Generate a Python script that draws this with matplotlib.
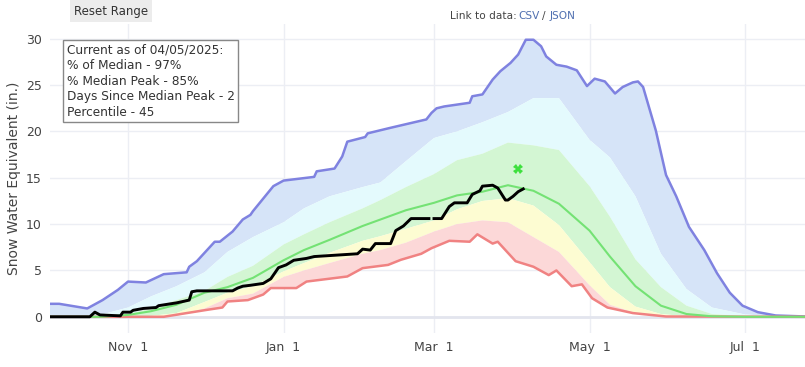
# Snow water equivalent chart: percentile bands, median and current water year
import numpy as np
import matplotlib
matplotlib.use('Agg')
import matplotlib.pyplot as plt
import matplotlib.dates as mdates
from datetime import datetime

# day 0 = start of water year
WY_START = datetime(2024, 10, 1)

# max of record (blue line)
max_days = [0, 4, 15, 21, 27, 31, 38, 45, 54, 55, 58, 61, 65, 67, 72, 76, 79, 80, 88, 92,
            104, 105, 112, 115, 117, 124, 125, 134, 148, 150, 152, 155, 165, 166, 170, 174, 177, 181, 184, 187,
            190, 193, 195, 199, 203, 207, 211, 214, 218, 222, 225, 229, 231, 233, 238, 242, 246, 251, 257, 262,
            267, 272, 278, 285, 297]
max_vals = [1.4, 1.4, 0.9, 1.8, 2.9, 3.8, 3.7, 4.6, 4.8, 5.4, 6.0, 6.9, 8.1, 8.1, 9.2, 10.5, 11.0, 11.4, 14.1, 14.7,
            15.1, 15.7, 16.0, 17.3, 18.9, 19.4, 19.8, 20.4, 21.3, 22.0, 22.5, 22.7, 23.1, 23.8, 24.0, 25.6, 26.5, 27.4, 28.3, 29.9,
            29.9, 29.2, 28.1, 27.2, 27.0, 26.6, 24.9, 25.7, 25.4, 24.1, 24.8, 25.3, 25.4, 24.8, 20.1, 15.3, 13.0, 9.7, 7.2, 4.7,
            2.6, 1.2, 0.5, 0.14, 0.03]

# min of record (red line)
min_days = [0, 45, 54, 62, 68, 70, 78, 84, 87, 97, 101, 117, 123, 133, 138, 146, 150, 157, 165, 168,
            174, 176, 183, 190, 196, 199, 205, 209, 213, 219, 229, 242, 297]
min_vals = [0, 0, 0.4, 0.75, 1.0, 1.65, 1.8, 2.4, 3.1, 3.1, 3.8, 4.35, 5.25, 5.6, 6.15, 6.8, 7.4, 8.2, 8.1, 8.9,
            7.9, 8.1, 6.0, 5.4, 4.5, 5.0, 3.3, 3.5, 2.0, 1.0, 0.4, 0.03, 0]

# percentiles on a common set of days
pct_days = [0, 10, 20, 31, 40, 50, 61, 70, 80, 92, 100, 110, 123, 130, 140, 151, 160, 170, 180, 190,
            200, 212, 220, 230, 240, 250, 260, 273, 285, 297]
p90 = [0, 0, 0.2, 1.0, 2.2, 3.3, 4.8, 7.0, 8.6, 10.2, 11.7, 13.0, 14.0, 14.5, 16.8, 19.3, 20.0, 21.0, 22.1, 23.6,
       23.6, 19.1, 17.2, 13.0, 6.8, 3.0, 1.0, 0.25, 0.05, 0]
p70 = [0, 0, 0, 0.3, 0.9, 1.8, 2.8, 4.3, 5.5, 7.8, 8.9, 10.2, 11.7, 12.6, 14.0, 15.4, 16.9, 17.6, 18.8, 18.5,
       18.0, 14.1, 10.8, 6.2, 3.2, 1.2, 0.3, 0.05, 0, 0]
median = [0, 0, 0, 0.2, 0.6, 1.3, 2.6, 3.2, 4.2, 6.1, 7.2, 8.3, 9.8, 10.5, 11.5, 12.3, 13.1, 13.5, 14.2, 13.6,
          12.2, 9.3, 6.5, 3.3, 1.2, 0.3, 0.05, 0, 0, 0]
p30 = [0, 0, 0, 0, 0.1, 0.4, 1.6, 2.6, 3.3, 4.9, 5.8, 6.9, 8.2, 8.7, 9.5, 10.4, 11.6, 12.5, 12.8, 12.0,
       9.9, 5.9, 3.2, 1.1, 0.3, 0.05, 0, 0, 0, 0]
p10 = [0, 0, 0, 0, 0, 0.1, 0.9, 2.0, 2.5, 4.3, 5.0, 5.8, 6.8, 7.2, 8.0, 9.2, 10.0, 10.4, 10.2, 8.6,
       7.0, 3.4, 1.3, 0.4, 0.1, 0, 0, 0, 0, 0]

# current water year (black line), nan = missing data
cur_days = [0, 16, 18, 20, 28, 29, 32, 33, 37, 42, 43, 50, 55, 56, 58, 72, 74, 76, 79, 84,
            87, 90, 91, 93, 96, 101, 104, 121, 123, 126, 128, 134, 136, 139, 142, 149, 150, 151, 154, 157,
            159, 164, 166, 169, 170, 174, 176, 179, 180, 182, 184, 186]
cur_vals = [0, 0, 0.5, 0.2, 0.1, 0.5, 0.5, 0.7, 0.9, 1.0, 1.2, 1.5, 1.8, 2.7, 2.8, 2.8, 3.1, 3.3, 3.4, 3.6,
            4.1, 5.3, 5.4, 5.6, 6.1, 6.3, 6.5, 6.8, 7.3, 7.2, 7.9, 7.9, 9.3, 9.8, 10.6, 10.6, np.nan, 10.6, 10.6, 11.9,
            12.3, 12.3, 13.2, 13.6, 14.1, 14.2, 13.9, 12.6, 12.6, 13.0, 13.5, 13.8]

peak_day, peak_val = 184, 16.0

info_lines = ["Current as of 04/05/2025:", "% of Median - 97%", "% Median Peak - 85%",
              "Days Since Median Peak - 2", "Percentile - 45"]

t0 = mdates.date2num(WY_START)
def tx(days):
    return t0 + np.asarray(days, dtype=float)

W, H = 805, 367
fig = plt.figure(figsize=(W / 100, H / 100), dpi=100)
ax = fig.add_axes([50 / W, (H - 333) / H, (805 - 50) / W, (333 - 24) / H])

xp, xmx, xmn = tx(pct_days), tx(max_days), tx(min_days)

def band(x_top, y_top, x_bot, y_bot, color):
    ax.fill(np.concatenate([x_top, x_bot[::-1]]),
            np.concatenate([y_top, np.asarray(y_bot)[::-1]]),
            color=color, lw=0, zorder=1)

band(xmx, max_vals, xp, p90, '#d6e4f8')
band(xp, p90, xp, p70, '#e4fafd')
band(xp, p70, xp, p30, '#d3f6d3')
band(xp, p30, xp, p10, '#fdfcd2')
band(xp, p10, xmn, min_vals, '#fcd8d8')

ax.plot(xmx, max_vals, color='#7f82e0', lw=1.8, zorder=3)
ax.plot(xmn, min_vals, color='#f08282', lw=1.8, zorder=3)
ax.plot(xp, median, color='#74e274', lw=1.5, zorder=3)
ax.plot(tx(cur_days), cur_vals, color='black', lw=2.1, zorder=4)
ax.plot(tx([peak_day]), [peak_val], marker='X', color='#3ee03e', ms=7, mew=0, ls='none', zorder=5)

ax.set_xlim(tx([0.4, 296.5]))
ax.set_ylim(-1.75, 31.6)
ax.set_yticks([0, 5, 10, 15, 20, 25, 30])
ax.xaxis.set_major_locator(mdates.MonthLocator(bymonth=[11, 1, 3, 5, 7]))
ax.xaxis.set_major_formatter(mdates.DateFormatter('%b  %-d'))
ax.grid(True, color='#eceef4', lw=1, zorder=0)
ax.set_axisbelow(True)
ax.axhline(0, color='#e3e5ee', lw=2, zorder=2)
for s in ax.spines.values():
    s.set_visible(False)
ax.tick_params(length=0, labelsize=9, colors='#444444', pad=6)
ax.set_ylabel('Snow Water Equivalent (in.)', fontsize=10, color='#444444')
ax.yaxis.set_label_coords(-0.038, 0.5)

# info box
ax.text(0.022, 0.936, "\n".join(info_lines), transform=ax.transAxes, va='top', ha='left',
        fontsize=8.7, color='#333333', linespacing=1.25, zorder=6,
        bbox=dict(boxstyle='square,pad=0.3', fc='white', ec='#888888', lw=1))

fig.text(111 / W, 1 - 11 / H, 'Reset Range', ha='center', va='center', fontsize=8.5, color='#333333',
         bbox=dict(boxstyle='square,pad=0.35', fc='#ececec', ec='none'))
fig.text(450 / W, 1 - 16 / H, 'Link to data:', ha='left', va='center', fontsize=7.6, color='#444444')
fig.text(518 / W, 1 - 16 / H, 'CSV', ha='left', va='center', fontsize=7.6, color='#4f6fb0')
fig.text(542 / W, 1 - 16 / H, '/', ha='left', va='center', fontsize=7.6, color='#444444')
fig.text(550 / W, 1 - 16 / H, 'JSON', ha='left', va='center', fontsize=7.6, color='#4f6fb0')

fig.savefig('out.png', dpi=100)
